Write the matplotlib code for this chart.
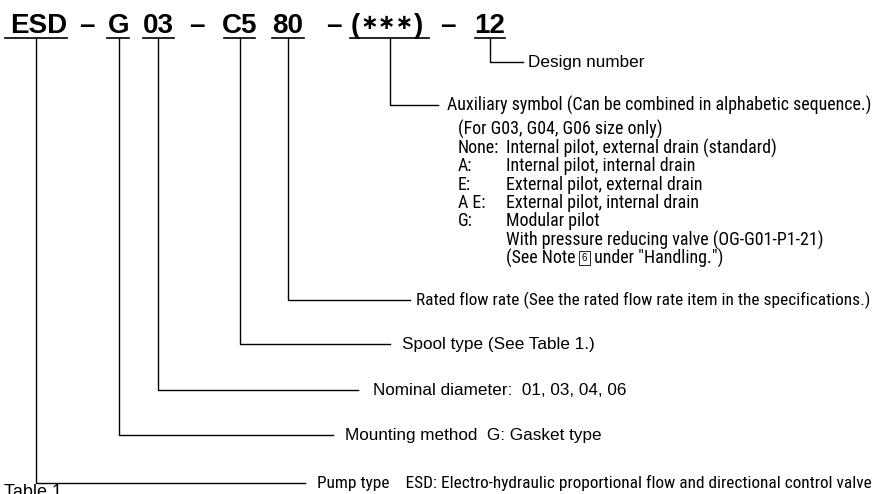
import matplotlib
matplotlib.use("Agg")
import matplotlib.pyplot as plt
from matplotlib import font_manager
from matplotlib.font_manager import FontProperties

# model code segments, left to right
codes = ["ESD", "G", "03", "C5", "80", "(***)", "12"]
dash = "\u2013"

# what each segment means (same order as codes)
descriptions = [
    "Pump type    ESD: Electro-hydraulic proportional flow and directional control valve",
    "Mounting method  G: Gasket type",
    "Nominal diameter:  01, 03, 04, 06",
    "Spool type (See Table 1.)",
    "Rated flow rate (See the rated flow rate item in the specifications.)",
    "Auxiliary symbol (Can be combined in alphabetic sequence.)",
    "Design number",
]

aux_header = "(For G03, G04, G06 size only)"
aux_keys = ["None:", "A:", "E:", "A E:", "G:", ""]
aux_values = [
    "Internal pilot, external drain (standard)",
    "Internal pilot, internal drain",
    "External pilot, external drain",
    "External pilot, internal drain",
    "Modular pilot",
    "With pressure reducing valve (OG-G01-P1-21)",
]
note_parts = ["(See Note ", "6", " under \"Handling.\")"]
footer = "Table 1"

# layout (pixels, y from top)
code_x = [38.5, 118.5, 158.5, 240, 288, 387, 490]
dash_x = [87, 196.5, 333.5, 447.5]
stem_x = [36, 119, 158, 240, 288, 390, 490]
underline = [(5, 67), (107, 129), (143, 174), (224, 255), (272, 304), (350, 429), (475, 505)]
label_y = [483, 435, 390, 344, 300, 105, 62]
line_end = [305, 333, 358, 390, 410, 438, 523]
text_x = [317, 345, 373, 402, 416, 447, 528]
narrow = [True, False, False, False, True, True, False]
narrow_right = 870  # condensed lines end about here in the reference
aux_rows_y = [129, 148, 166, 185, 203, 221, 240, 258]
key_x = 458
val_x = 506

# pick a condensed face if one is installed
REG = ["Liberation Sans", "DejaVu Sans"]
narrow_prop = None
for pref in ["LiberationSansNarrow-Regular", "RobotoCondensed-Regular", "Roboto_Condensed-Regular",
             "DejaVuSansCondensed.ttf"]:
    for f in font_manager.fontManager.ttflist:
        if pref in f.fname.replace(" ", ""):
            narrow_prop = f.fname
            break
    if narrow_prop:
        break


def nfont(size):
    if narrow_prop:
        return FontProperties(fname=narrow_prop, size=size)
    return FontProperties(family=REG, size=size)


W, H = 875, 494
fig = plt.figure(figsize=(W / 100, H / 100), dpi=100)
ax = fig.add_axes([0, 0, 1, 1])
ax.set_xlim(0, W)
ax.set_ylim(H, 0)
ax.axis("off")
renderer = fig.canvas.get_renderer()


def fit_narrow(x, y, s, right):
    # size the condensed text so it ends where the reference line ends
    size = 10
    t = ax.text(x, y, s, ha="left", va="center", fontproperties=nfont(size))
    for _ in range(4):
        bb = t.get_window_extent(renderer)
        x1 = ax.transData.inverted().transform((bb.x1, bb.y0))[0]
        size = size * (right - x) / (x1 - x)
        t.set_fontproperties(nfont(size))
    return size


# header codes
for c, x in zip(codes, code_x):
    if c.startswith("("):
        ax.text(351, 33, "(", ha="left", va="baseline", fontsize=20, fontweight="bold", family=REG)
        ax.text(423, 33, ")", ha="right", va="baseline", fontsize=20, fontweight="bold", family=REG)
        stars = c[1:-1].replace("*", "\u2217")
        ax.text(x, 23, stars, ha="center", va="center", fontsize=15.2,
                fontweight="bold", family=["DejaVu Sans"])
    else:
        ax.text(x, 33, c, ha="center", va="baseline", fontsize=20, fontweight="bold", family=REG)
for x in dash_x:
    ax.text(x, 33, dash, ha="center", va="baseline", fontsize=20, fontweight="bold", family=REG)
for x0, x1 in underline:
    ax.plot([x0, x1], [38, 38], color="black", lw=1.2)

# leader lines and labels
aux_size = 11
for i in range(len(codes)):
    sx = stem_x[i]
    y = label_y[i]
    ax.plot([sx, sx, line_end[i]], [38, y, y], color="black", lw=1.0)
    if narrow[i]:
        s = fit_narrow(text_x[i], y, descriptions[i], narrow_right)
        if i == 5:
            aux_size = s
    else:
        ax.text(text_x[i], y, descriptions[i], ha="left", va="center", fontsize=12.3, family=REG)

# auxiliary symbol details
ax.text(key_x, aux_rows_y[0], aux_header, ha="left", va="center", fontproperties=nfont(aux_size))
for k, v, y in zip(aux_keys, aux_values, aux_rows_y[1:]):
    if k:
        ax.text(key_x, y, k, ha="left", va="center", fontproperties=nfont(aux_size))
    ax.text(val_x, y, v, ha="left", va="center", fontproperties=nfont(aux_size))

# note line with boxed number
y = aux_rows_y[-1]
t1 = ax.text(val_x, y, note_parts[0], ha="left", va="center", fontproperties=nfont(aux_size))
bb = t1.get_window_extent(renderer)
x_next = ax.transData.inverted().transform((bb.x1, bb.y0))[0]
t2 = ax.text(x_next + 2, y, note_parts[1], ha="left", va="center", fontsize=7, family=REG,
             bbox=dict(boxstyle="square,pad=0.25", fc="white", ec="black", lw=0.6))
bb2 = t2.get_window_extent(renderer)
x_next = ax.transData.inverted().transform((bb2.x1, bb2.y0))[0]
ax.text(x_next + 3, y, note_parts[2], ha="left", va="center", fontproperties=nfont(aux_size))

ax.text(4, 484, footer, ha="left", va="top", fontsize=13, family=REG)

fig.savefig("out.png", dpi=100)
